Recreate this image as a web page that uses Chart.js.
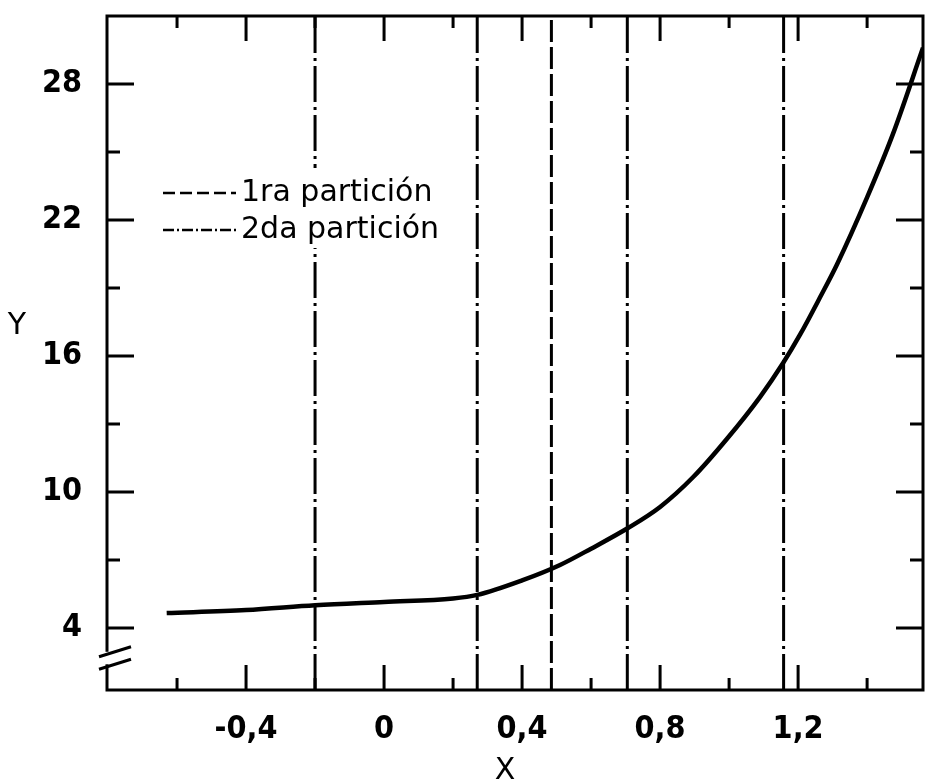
<!DOCTYPE html>
<html>
<head>
<meta charset="utf-8">
<script src="https://cdn.jsdelivr.net/npm/chart.js@4.4.0/dist/chart.umd.min.js"></script>
<style>
    html, body { margin: 0; padding: 0; background: #fff; }
    #wrap { width: 925px; height: 782px; }
</style>
</head>
<body>
<div id="wrap"><canvas id="chart" width="925" height="782"></canvas></div>
<script>
// curve
const curveX = [-0.63, -0.4, -0.2, 0, 0.2, 0.27, 0.4, 0.51, 0.6, 0.707, 0.8, 0.896, 0.994, 1.09, 1.157, 1.206, 1.264, 1.313, 1.40, 1.475, 1.562];
const curveY = [4.66, 4.79, 5.0, 5.15, 5.3, 5.46, 6.1, 6.78, 7.5, 8.41, 9.34, 10.66, 12.35, 14.2, 15.7, 16.95, 18.6, 20.05, 23.0, 25.8, 29.6];

// vertical partition lines
const partition1X = [0.485];
const partition2X = [-0.2, 0.27, 0.705, 1.158];
const legendLabels = ["1ra partición", "2da partición"];

// axis ticks
const xTickValues = [-0.6, -0.4, -0.2, 0, 0.2, 0.4, 0.6, 0.8, 1.0, 1.2, 1.4];
const xLabelValues = [-0.4, 0, 0.4, 0.8, 1.2];
const xTickLabels = ["-0,4", "0", "0,4", "0,8", "1,2"];
const yTickValues = [4, 7, 10, 13, 16, 19, 22, 25, 28];
const yLabelValues = [4, 10, 16, 22, 28];
const yTickLabels = ["4", "10", "16", "22", "28"];
const yBreakValues = [2.95, 2.4];

const X_MIN = -0.803, X_MAX = 1.562, Y_MIN = 1.265, Y_MAX = 31.0;

const DASHED = [22, 5];
const DASH_DOT = [36, 5, 3, 5];
const TICK_FONT = {family: "'Liberation Sans Narrow', 'DejaVu Sans Condensed', sans-serif", size: 32, weight: "bold"};
const TEXT_FONT = "30px 'DejaVu Sans', sans-serif";

function labelFor(values, labels, v) {
    const i = values.findIndex(x => Math.abs(x - v) < 1e-6);
    return i >= 0 ? labels[i] : "";
}

function vline(x, label, dash, first) {
    return {
        label: first ? label : "",
        data: [{x: x, y: Y_MIN}, {x: x, y: Y_MAX}],
        borderColor: "#000",
        borderWidth: 3,
        borderDash: dash,
        pointRadius: 0,
        fill: false,
    };
}

const datasets = [{
    label: "curve",
    data: curveX.map((x, i) => ({x: x, y: curveY[i]})),
    borderColor: "#000",
    borderWidth: 4.5,
    pointRadius: 0,
    cubicInterpolationMode: "monotone",
    fill: false,
}];
partition1X.forEach((x, i) => datasets.push(vline(x, legendLabels[0], DASHED, i === 0)));
partition2X.forEach((x, i) => datasets.push(vline(x, legendLabels[1], DASH_DOT, i === 0)));

const framePlugin = {
    id: "frame",
    afterDraw(chart) {
        const ctx = chart.ctx;
        const a = chart.chartArea;
        const xs = chart.scales.x, ys = chart.scales.y;
        ctx.save();
        ctx.strokeStyle = "#000";
        ctx.lineWidth = 3;
        ctx.strokeRect(a.left, a.top, a.right - a.left, a.bottom - a.top);

        // inward tick marks on all four sides
        xTickValues.forEach(v => {
            const px = xs.getPixelForValue(v);
            const major = labelFor(xLabelValues, xTickLabels, v) !== "";
            const len = major ? 25 : 12;
            ctx.beginPath();
            ctx.moveTo(px, a.bottom); ctx.lineTo(px, a.bottom - len);
            ctx.moveTo(px, a.top); ctx.lineTo(px, a.top + len);
            ctx.stroke();
        });
        yTickValues.forEach(v => {
            const py = ys.getPixelForValue(v);
            const major = labelFor(yLabelValues, yTickLabels, v) !== "";
            const len = major ? 27 : 13;
            ctx.beginPath();
            ctx.moveTo(a.left, py); ctx.lineTo(a.left + len, py);
            ctx.moveTo(a.right, py); ctx.lineTo(a.right - len, py);
            ctx.stroke();
        });

        // axis break
        const b0 = ys.getPixelForValue(yBreakValues[0]);
        const b1 = ys.getPixelForValue(yBreakValues[1]);
        ctx.fillStyle = "#fff";
        ctx.fillRect(a.left - 3, b0, 6, b1 - b0);
        ctx.beginPath();
        [b0, b1].forEach(py => {
            ctx.moveTo(a.left - 8, py + 5);
            ctx.lineTo(a.left + 24, py - 5);
        });
        ctx.stroke();

        // legend
        ctx.fillStyle = "#fff";
        ctx.fillRect(152, 168, 288, 80);
        ctx.fillStyle = "#000";
        ctx.font = TEXT_FONT;
        ctx.textBaseline = "alphabetic";
        ctx.textAlign = "left";
        ctx.lineWidth = 2.5;
        const rows = [{y: 193, dash: [12, 5]}, {y: 230, dash: [11, 3, 2, 3]}];
        rows.forEach((r, i) => {
            ctx.setLineDash(r.dash);
            ctx.beginPath();
            ctx.moveTo(163, r.y); ctx.lineTo(236, r.y);
            ctx.stroke();
            ctx.setLineDash([]);
            ctx.fillText(legendLabels[i], 241, r.y + 8);
        });

        // axis titles
        ctx.textAlign = "center";
        ctx.textBaseline = "middle";
        ctx.fillText("Y", 17, 326);
        ctx.fillText("X", 505, 771);
        ctx.restore();
    }
};

new Chart(document.getElementById("chart"), {
    type: "scatter",
    data: {datasets: datasets},
    options: {
        responsive: false,
        animation: false,
        devicePixelRatio: 1,
        showLine: true,
        layout: {padding: {top: 16, right: 2, left: 0, bottom: 0}},
        plugins: {legend: {display: false}, tooltip: {enabled: false}},
        scales: {
            x: {
                type: "linear",
                min: X_MIN,
                max: X_MAX,
                grid: {display: false, drawTicks: false},
                border: {display: false},
                afterBuildTicks: s => { s.ticks = xTickValues.map(v => ({value: v})); },
                afterFit: s => { s.height = 92; s.paddingLeft = 0; s.paddingRight = 0; },
                ticks: {
                    autoSkip: false,
                    maxRotation: 0,
                    padding: 20,
                    color: "#000",
                    font: TICK_FONT,
                    callback: v => labelFor(xLabelValues, xTickLabels, v),
                },
            },
            y: {
                type: "linear",
                min: Y_MIN,
                max: Y_MAX,
                grid: {display: false, drawTicks: false},
                border: {display: false},
                afterBuildTicks: s => { s.ticks = yTickValues.map(v => ({value: v})); },
                afterFit: s => { s.width = 107; s.paddingTop = 0; s.paddingBottom = 0; },
                ticks: {
                    autoSkip: false,
                    padding: 25,
                    color: "#000",
                    font: TICK_FONT,
                    callback: v => labelFor(yLabelValues, yTickLabels, v),
                },
            },
        },
    },
    plugins: [framePlugin],
});
</script>
</body>
</html>
